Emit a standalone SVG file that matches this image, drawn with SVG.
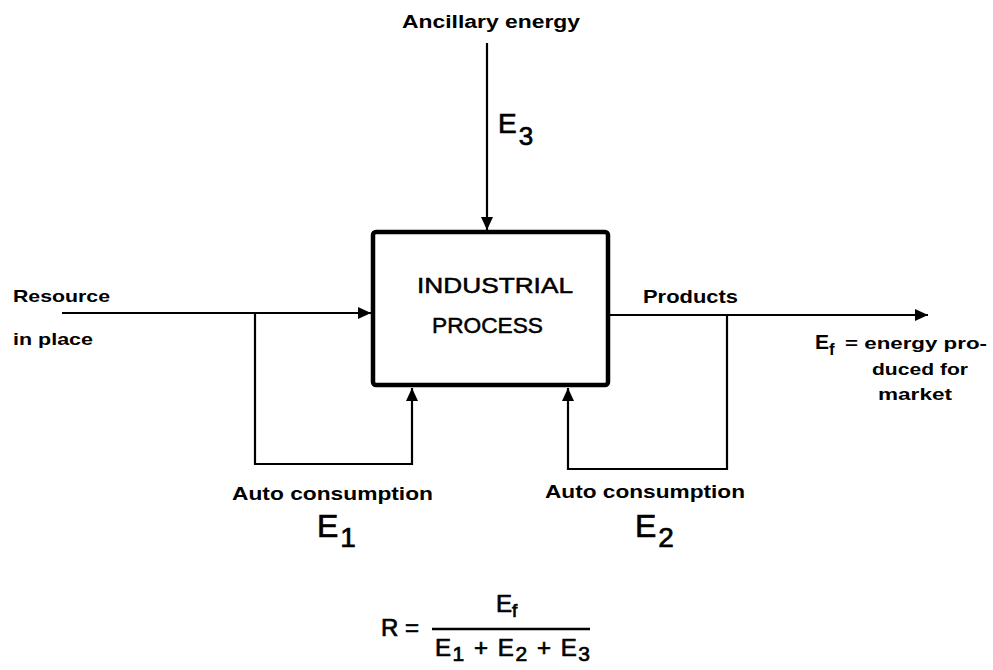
<svg xmlns="http://www.w3.org/2000/svg" width="993" height="670" viewBox="0 0 993 670">
<style>
  .lbl { font-family: "Liberation Sans", Arial, sans-serif; font-weight: bold; fill: #000; }
  .box { font-family: "Liberation Sans", Arial, sans-serif; font-weight: normal; fill: #000; font-size: 22px; stroke: #000; stroke-width: 0.5; }
  .big { font-family: "Liberation Sans", Arial, sans-serif; font-weight: normal; fill: #000; stroke: #000; stroke-width: 0.7; }
  .conn { fill: none; stroke: #000; stroke-width: 2.2; }
</style>
<defs>
  <marker id="arr" markerUnits="userSpaceOnUse" markerWidth="14" markerHeight="12" refX="13" refY="6" orient="auto">
    <path d="M0,0 L13,6 L0,12 Z" fill="#000"/>
  </marker>
</defs>
<rect width="993" height="670" fill="#fff"/>

<g id="connectors">
  <path class="conn" d="M487,43 V230" marker-end="url(#arr)"/>
  <path class="conn" d="M62,313 H371" marker-end="url(#arr)"/>
  <path class="conn" d="M255,313 V464 H412 V388" marker-end="url(#arr)"/>
  <path class="conn" d="M610,315 H928" marker-end="url(#arr)"/>
  <path class="conn" d="M727,315 V469 H568 V388" marker-end="url(#arr)"/>
</g>

<g id="process">
  <rect x="373" y="232" width="235" height="153" rx="3" fill="none" stroke="#000" stroke-width="4.5"/>
  <text class="box" x="417" y="293" textLength="156" lengthAdjust="spacingAndGlyphs">INDUSTRIAL</text>
  <text class="box" x="432" y="333" textLength="111" lengthAdjust="spacingAndGlyphs">PROCESS</text>
</g>

<g id="ancillary">
  <text class="lbl" x="402" y="28" font-size="18" textLength="178" lengthAdjust="spacingAndGlyphs">Ancillary energy</text>
  <text class="big" x="498" y="133" font-size="28">E<tspan font-size="26" dx="2" dy="12">3</tspan></text>
</g>

<g id="resource">
  <text class="lbl" x="13" y="302" font-size="17" textLength="97" lengthAdjust="spacingAndGlyphs">Resource</text>
  <text class="lbl" x="13" y="345" font-size="17" textLength="80" lengthAdjust="spacingAndGlyphs">in place</text>
</g>

<g id="products">
  <text class="lbl" x="643" y="303" font-size="18" textLength="95" lengthAdjust="spacingAndGlyphs">Products</text>
  <text class="lbl" x="815" y="349" font-size="21">E<tspan font-size="17" dy="6">f</tspan></text>
  <text class="lbl" x="845" y="349" font-size="17" textLength="142" lengthAdjust="spacingAndGlyphs">= energy pro-</text>
  <text class="lbl" x="872" y="375" font-size="17" textLength="96" lengthAdjust="spacingAndGlyphs">duced for</text>
  <text class="lbl" x="878" y="400" font-size="17" textLength="74" lengthAdjust="spacingAndGlyphs">market</text>
</g>

<g id="auto1">
  <text class="lbl" x="232" y="500" font-size="19" textLength="201" lengthAdjust="spacingAndGlyphs">Auto consumption</text>
  <text class="big" x="317" y="537" font-size="32">E<tspan font-size="28" dx="2" dy="10">1</tspan></text>
</g>

<g id="auto2">
  <text class="lbl" x="545" y="498" font-size="19" textLength="200" lengthAdjust="spacingAndGlyphs">Auto consumption</text>
  <text class="big" x="635" y="537" font-size="32">E<tspan font-size="28" dx="2" dy="10">2</tspan></text>
</g>

<g id="formula">
  <text class="big" x="381" y="636" font-size="24">R</text>
  <text class="big" x="405" y="636" font-size="24">=</text>
  <line x1="432" y1="629" x2="590" y2="629" stroke="#000" stroke-width="2.5"/>
  <text class="big" x="496" y="612" font-size="24">E<tspan font-size="19" dy="5">f</tspan></text>
  <text class="big" x="435" y="656" font-size="24" textLength="155" lengthAdjust="spacing">E<tspan font-size="21" dy="5">1</tspan><tspan dy="-5"> + E</tspan><tspan font-size="21" dy="5">2</tspan><tspan dy="-5"> + E</tspan><tspan font-size="21" dy="5">3</tspan></text>
</g>
</svg>
